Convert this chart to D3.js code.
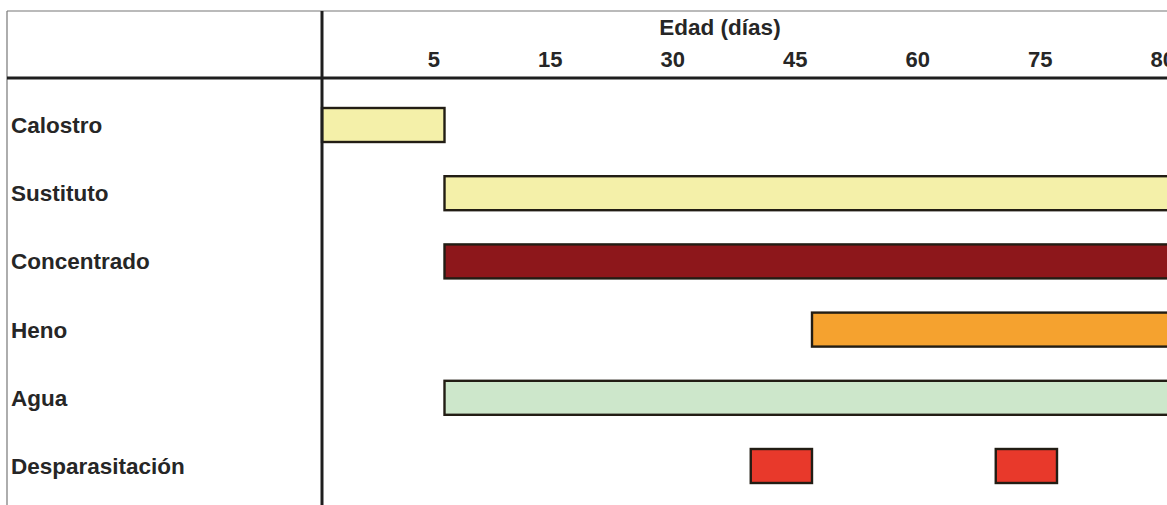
<!DOCTYPE html>
<html>
<head>
<meta charset="utf-8">
<script src="https://cdn.jsdelivr.net/npm/d3@7"></script>
<style>
  body { margin: 0; background: #fff; }
  text { font-family: "Liberation Sans", Arial, sans-serif; font-weight: bold; fill: #262626; }
</style>
</head>
<body>
<div id="chart"></div>
<script>
// Data
const activities = ['Calostro', 'Sustituto', 'Concentrado', 'Heno', 'Agua', 'Desparasitación'];
const dayTicks = [0, 5, 15, 30, 45, 60, 75, 80];
const tickLabels = ['5', '15', '30', '45', '60', '75', '80'];
const segActivity = ['Calostro', 'Sustituto', 'Concentrado', 'Heno', 'Agua', 'Desparasitación', 'Desparasitación'];
const segStart = [0, 5, 5, 45, 5, 37.5, 67.5];
const segEnd = [5, 80, 80, 80, 80, 45, 75];
const colors = {
    'Calostro': '#f4f0a9',
    'Sustituto': '#f4f0a9',
    'Concentrado': '#8d171b',
    'Heno': '#f5a22f',
    'Agua': '#cde7cb',
    'Desparasitación': '#e8392b'
};

const width = 1167, height = 505;
const left = 322, colW = 122.5;

const svg = d3.select('#chart')
    .append('svg')
    .attr('width', width)
    .attr('height', height);

// every interval of the day scale gets the same column width
const x = d3.scaleLinear()
    .domain(dayTicks)
    .range(dayTicks.map((d, i) => left + i * colW));

const y = d3.scalePoint()
    .domain(activities)
    .range([125, 466]);

const barH = 34;

// frame
svg.append('line')
    .attr('x1', 7).attr('x2', width).attr('y1', 11).attr('y2', 11)
    .attr('stroke', '#777').attr('stroke-width', 1.2);
svg.append('line')
    .attr('x1', 7).attr('x2', 7).attr('y1', 11).attr('y2', height)
    .attr('stroke', '#777').attr('stroke-width', 1.2);

// bars
const segs = segActivity.map((a, i) => ({ a, s: segStart[i], e: segEnd[i] }));
svg.selectAll('.bar')
    .data(segs)
    .enter()
    .append('rect')
    .attr('class', 'bar')
    .attr('x', d => x(d.s))
    .attr('y', d => y(d.a) - barH / 2)
    .attr('width', d => x(d.e) - x(d.s))
    .attr('height', barH)
    .attr('fill', d => colors[d.a])
    .attr('stroke', '#221d14')
    .attr('stroke-width', 2.4);

// header separators
svg.append('line')
    .attr('x1', 7).attr('x2', width).attr('y1', 78).attr('y2', 78)
    .attr('stroke', '#1e1e1e').attr('stroke-width', 3);
svg.append('line')
    .attr('x1', left).attr('x2', left).attr('y1', 11).attr('y2', height)
    .attr('stroke', '#1e1e1e').attr('stroke-width', 3);

// x axis labels (right aligned at end of each column)
const xAxis = d3.axisTop(x)
    .tickValues(dayTicks.slice(1))
    .tickFormat((d, i) => tickLabels[i])
    .tickSize(0);

const ax = svg.append('g')
    .attr('transform', 'translate(0,67)')
    .call(xAxis);
ax.select('.domain').remove();
ax.selectAll('text')
    .attr('y', 0)
    .attr('dy', 0)
    .attr('dx', -5)
    .attr('text-anchor', 'end')
    .style('font-size', '22px')
    .style('font-family', '"Liberation Sans", Arial, sans-serif')
    .style('font-weight', 'bold')
    .attr('fill', '#262626');

svg.append('text')
    .attr('x', 720)
    .attr('y', 35)
    .attr('text-anchor', 'middle')
    .style('font-size', '22.5px')
    .text('Edad (días)');

// row labels
svg.selectAll('.label')
    .data(activities)
    .enter()
    .append('text')
    .attr('class', 'label')
    .attr('x', 11)
    .attr('y', d => y(d) + 8)
    .style('font-size', '22.5px')
    .text(d => d);
</script>
</body>
</html>
